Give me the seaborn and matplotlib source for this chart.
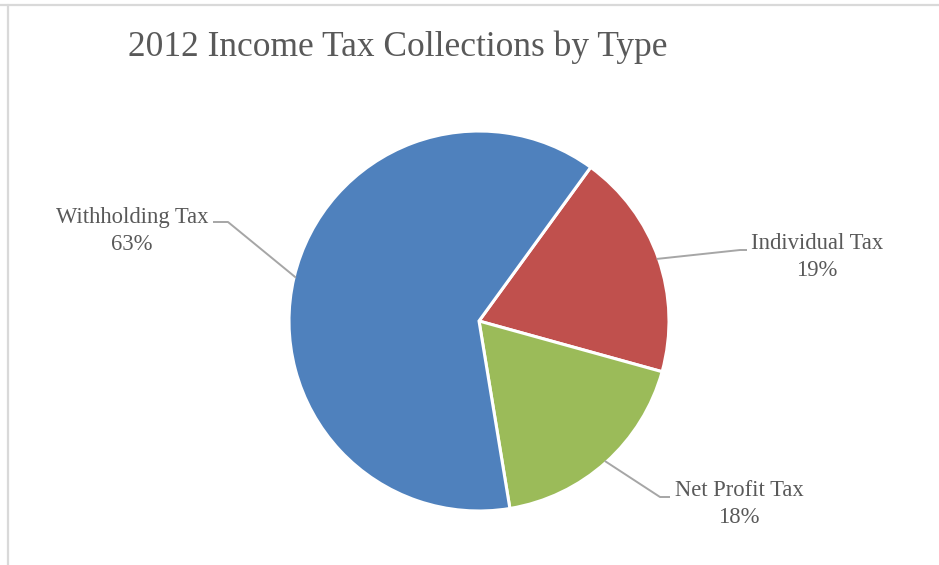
import numpy as np
import matplotlib
matplotlib.use("Agg")
import matplotlib.pyplot as plt
import seaborn as sns

# ---- data ----
categories = ["Individual Tax", "Net Profit Tax", "Withholding Tax"]
values = [19.3, 18.1, 62.6]
colors = ["#C0504D", "#9BBB59", "#4F81BD"]
title = "2012 Income Tax Collections by Type"

sns.set_theme(style="white")
plt.rcParams["font.family"] = ["Liberation Serif", "DejaVu Serif"]

W, H = 939, 565
fig = plt.figure(figsize=(W / 100, H / 100), dpi=100)
ax = fig.add_axes([0, 0, 1, 1])

cx, cy, R = 479, H - 321, 190
wedges, _ = ax.pie(values, colors=colors, startangle=54, counterclock=False,
                   center=(cx, cy), radius=R,
                   wedgeprops=dict(edgecolor="white", linewidth=2.2))
ax.set_xlim(0, W)
ax.set_ylim(0, H)
ax.set_aspect("equal")
ax.axis("off")

txt_col = "#595959"
line_col = "#A6A6A6"
# label layout: (elbow x, elbow y, end x, text x, text y) in pixel coords
layout = {
    "Individual Tax": (740, 250, 747, 817, 257),
    "Net Profit Tax": (660, 497, 670, 739, 504),
    "Withholding Tax": (228, 222, 213, 132, 231),
}
total = sum(values)
for w, cat, v in zip(wedges, categories, values):
    mid = np.deg2rad((w.theta1 + w.theta2) / 2)
    sx = cx + R * 0.99 * np.cos(mid)
    sy = cy + R * 0.99 * np.sin(mid)
    ex, ey, endx, tx, ty = layout[cat]
    ax.plot([sx, ex, endx], [sy, H - ey, H - ey], color=line_col, lw=1.4,
            solid_capstyle="butt", clip_on=False)
    ax.text(tx, H - ty, f"{cat}\n{v / total * 100:.0f}%", ha="center",
            va="center", fontsize=16.3, color=txt_col, linespacing=1.4)

ax.text(128, H - 47, title, ha="left", va="center", fontsize=25.5, color=txt_col)

# chart frame lines
fig.add_artist(plt.Line2D([0, 1], [1 - 5 / H, 1 - 5 / H], color="#D9D9D9", lw=1.6))
fig.add_artist(plt.Line2D([7.5 / W, 7.5 / W], [0, 1 - 5 / H], color="#D9D9D9", lw=1.6))

fig.savefig("out.png", dpi=100, facecolor="white")
